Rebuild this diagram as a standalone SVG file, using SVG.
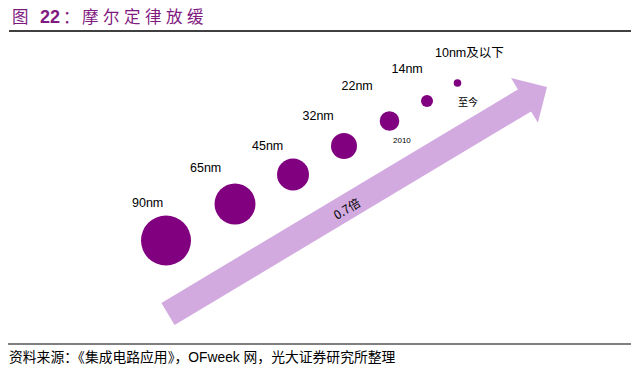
<svg xmlns="http://www.w3.org/2000/svg" width="640" height="373" viewBox="0 0 640 373">
<style>
.lbl{font-family:"Liberation Sans","Noto Sans CJK SC",sans-serif;font-size:12.5px;fill:#000}
.cjk{font-family:"Noto Sans CJK SC",sans-serif;fill:#000}
.dot{fill:#800080}
</style>
<rect width="640" height="373" fill="#fff"/>
<g id="title">
<text x="12" y="23" font-family="Noto Sans CJK SC,sans-serif" font-size="16.5" fill="#7F1A7F">图</text>
<text x="40" y="23" font-family="Liberation Sans,sans-serif" font-size="18" font-weight="bold" fill="#7F1A7F">22</text>
<text x="63" y="23" font-family="Noto Sans CJK SC,sans-serif" font-size="16.5" fill="#7F1A7F">：</text>
<text x="82" y="23" font-family="Noto Sans CJK SC,sans-serif" font-size="16.5" letter-spacing="4.5" fill="#7F1A7F">摩尔定律放缓</text>
<line x1="9" y1="31" x2="631" y2="31" stroke="#000" stroke-width="1.5"/>
</g>
<g id="connectors">
<polygon id="arrow" fill="#D2AADF" points="161.4,303 517.9,89.4 511.1,78.1 547,87 537.9,122.7 531.1,111.4 174.6,325"/>
<text class="cjk" font-size="12" transform="translate(337,220) rotate(-31)">0.7倍</text>
</g>
<g id="n90"><circle class="dot" cx="166" cy="240.5" r="25"/><text class="lbl" x="132" y="207">90nm</text></g>
<g id="n65"><circle class="dot" cx="235" cy="204" r="20.5"/><text class="lbl" x="190" y="172">65nm</text></g>
<g id="n45"><circle class="dot" cx="293" cy="174.5" r="16"/><text class="lbl" x="252" y="150">45nm</text></g>
<g id="n32"><circle class="dot" cx="344" cy="146" r="13"/><text class="lbl" x="302.5" y="120">32nm</text></g>
<g id="n22"><circle class="dot" cx="389.5" cy="121" r="9.8"/><text class="lbl" x="341.5" y="89.5">22nm</text><text x="393" y="142.5" font-family="Liberation Sans,sans-serif" font-size="8">2010</text></g>
<g id="n14"><circle class="dot" cx="427" cy="101" r="6"/><text class="lbl" x="391.5" y="73">14nm</text></g>
<g id="n10"><circle class="dot" cx="457.5" cy="83" r="3.8"/><text class="lbl" x="435" y="57">10nm及以下</text><text class="cjk" x="458" y="106" font-size="10">至今</text></g>
<g id="footer">
<line x1="8" y1="344" x2="631" y2="344" stroke="#000" stroke-width="1.2"/>
<text x="9" y="362" font-family="Liberation Sans,Noto Sans CJK SC,sans-serif" font-size="13.8" fill="#000">资料来源：《集成电路应用》，OFweek 网，光大证券研究所整理</text>
</g>
</svg>
